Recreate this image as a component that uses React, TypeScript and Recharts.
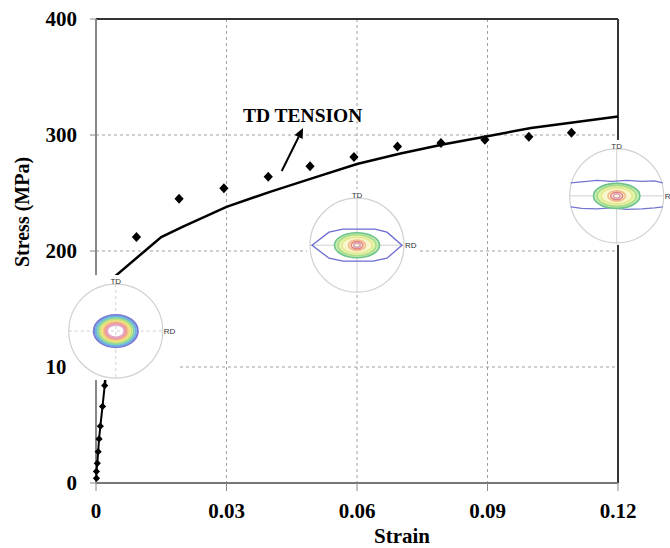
import {
  ComposedChart,
  Scatter,
  XAxis,
  YAxis,
  CartesianGrid,
  ReferenceLine,
  ReferenceDot,
  Label,
} from 'recharts';

// axis ticks
const strainTicks = [0, 0.03, 0.06, 0.09, 0.12];
const stressTicks = [0, 100, 200, 300, 400];

// elastic part (diamonds joined by a line)
const elasticStrain = [0.0001, 0.0001, 0.0003, 0.0005, 0.0007, 0.001, 0.0015, 0.002];
const elasticStress = [4, 10, 17, 27, 38, 49, 66, 84];

// simulated TD tension curve (plain line)
const curveStrain = [0.002, 0.0043, 0.015, 0.02, 0.03, 0.04, 0.05, 0.06, 0.07, 0.08, 0.09, 0.1, 0.11, 0.12];
const curveStress = [84, 178, 212, 221, 238, 251, 263, 275, 284, 292, 299, 306, 311, 316];

// measured points (diamonds only)
const testStrain = [0.0093, 0.0191, 0.0294, 0.0396, 0.0492, 0.0593, 0.0693, 0.0793, 0.0894, 0.0995, 0.1093];
const testStress = [212, 245, 254, 264, 273, 281, 290, 293, 296, 298.5, 302];

const FONT = '"Liberation Serif", "Times New Roman", serif';
const SANS = '"Liberation Sans", Arial, sans-serif';

const toPoints = (xs: number[], ys: number[]) => xs.map((x, i) => ({ x, y: ys[i] }));

const elasticData = toPoints(elasticStrain, elasticStress);
const curveData = toPoints(curveStrain, curveStress);
const testData = toPoints(testStrain, testStress);

// where the pole figure insets sit (in data units)
const INSETS = [
  { x: 0.00455, y: 131, kind: 'round' },
  { x: 0.06, y: 205, kind: 'eye' },
  { x: 0.1197, y: 247.5, kind: 'band' },
];

const diamond = (hw: number, hh: number) => (props: any) => {
  const { cx, cy } = props;
  if (cx == null || cy == null) return <g />;
  return (
    <path
      d={`M${cx},${cy - hh}L${cx + hw},${cy}L${cx},${cy + hh}L${cx - hw},${cy}Z`}
      fill="#000"
    />
  );
};

const noDot = () => <g />;

const roundRings = [
  { rx: 22, ry: 16, c: '#7b7bd6' },
  { rx: 20, ry: 14.5, c: '#6cb2e4' },
  { rx: 18, ry: 13, c: '#84d2ac' },
  { rx: 16, ry: 11.5, c: '#bfe281' },
  { rx: 14, ry: 10, c: '#efe37f' },
  { rx: 12, ry: 8.8, c: '#f3c283' },
  { rx: 10.3, ry: 7.6, c: '#ee9d8e' },
  { rx: 8.8, ry: 6.5, c: '#e5a3c6' },
];

const coreRings = [
  { rx: 22.5, ry: 12.5, c: '#6cc48a', f: '#c9ecb4' },
  { rx: 19, ry: 10.5, c: '#a9dc8a', f: '#e2f3aa' },
  { rx: 15, ry: 8, c: '#e6e88f', f: '#f8f6cc' },
  { rx: 8.5, ry: 5.2, c: '#f0b98a', f: 'none' },
  { rx: 5.8, ry: 3.6, c: '#e88282', f: 'none' },
  { rx: 3.2, ry: 2.1, c: '#d8a0c0', f: 'none' },
];

const pathFrom = (cx: number, cy: number, pts: number[][], close = false) =>
  pts.map((p, i) => `${i === 0 ? 'M' : 'L'}${cx + p[0]},${cy + p[1]}`).join('') + (close ? 'Z' : '');

function PoleFigure(props: any) {
  const { cx, cy, kind } = props;
  if (cx == null || cy == null) return <g />;
  const r = 47;
  const grey = '#d0d0d0';
  const dash = kind === 'round' ? '3 3' : undefined;
  return (
    <g>
      <rect x={cx - 50} y={cy - 56} width={113} height={105} fill="#fff" />
      <circle cx={cx} cy={cy} r={r} fill="none" stroke={grey} strokeWidth={1.2} />
      <line x1={cx - r} y1={cy} x2={cx + r} y2={cy} stroke={grey} strokeDasharray={dash} />
      <line x1={cx} y1={cy - r} x2={cx} y2={cy + r} stroke={grey} strokeDasharray={dash} />
      {kind === 'round' &&
        roundRings.map((g, i) => (
          <ellipse key={i} cx={cx} cy={cy} rx={g.rx} ry={g.ry} fill="none" stroke={g.c} strokeWidth={2.2} />
        ))}
      {kind === 'eye' && (
        <path
          d={pathFrom(cx, cy, [[-45, 0], [-28, -13], [-14, -16], [18, -16], [30, -13], [45, 0], [30, 13], [16, 16], [-14, 16], [-28, 13]], true)}
          fill="none"
          stroke="#6b6bd0"
          strokeWidth={1.3}
        />
      )}
      {kind === 'band' && (
        <g fill="none" stroke="#7474d2" strokeWidth={1.2}>
          <path d={pathFrom(cx, cy, [[-46, -13], [-35, -14], [-20, -15.5], [-5, -14.5], [10, -15.5], [25, -14.5], [38, -15], [46, -13]])} />
          <path d={pathFrom(cx, cy, [[-46, 11], [-35, 12.5], [-20, 13], [-5, 12], [10, 13.5], [25, 13], [38, 12], [46, 11]])} />
        </g>
      )}
      {kind !== 'round' &&
        coreRings.map((g, i) => (
          <ellipse
            key={i}
            cx={cx}
            cy={cy}
            rx={g.rx * (kind === 'band' ? 1.03 : 1)}
            ry={g.ry}
            fill={g.f}
            stroke={g.c}
            strokeWidth={1.6}
          />
        ))}
      <text x={cx} y={cy - 47} textAnchor="middle" fontSize={8} fontFamily={SANS} fill="#333">
        TD
      </text>
      <text x={cx + 48} y={cy + 3} fontSize={8} fontFamily={SANS} fill="#333">
        RD
      </text>
    </g>
  );
}

const Arrow = (props: any) => {
  const { x1, y1, x2, y2 } = props;
  if (x1 == null) return <g />;
  const a = Math.atan2(y2 - y1, x2 - x1);
  const len = 10;
  const w = 4.5;
  const bx = x2 - len * Math.cos(a);
  const by = y2 - len * Math.sin(a);
  const px = -Math.sin(a) * w;
  const py = Math.cos(a) * w;
  return (
    <g>
      <line x1={x1} y1={y1} x2={bx} y2={by} stroke="#000" strokeWidth={2} />
      <path d={`M${x2},${y2}L${bx + px},${by + py}L${bx - px},${by - py}Z`} fill="#000" />
    </g>
  );
};

const AnnotationText = (props: any) => {
  const { cx, cy } = props;
  if (cx == null) return <g />;
  return (
    <text x={cx} y={cy} textAnchor="middle" dominantBaseline="central" fontSize={19.5} fontWeight="bold" fontFamily={FONT} fill="#000">
      TD TENSION
    </text>
  );
};

const XTitle = (props: any) => {
  const { viewBox } = props;
  return (
    <text x={viewBox.x + viewBox.width / 2 + 45} y={viewBox.y + 60} textAnchor="middle" fontSize={21} fontWeight="bold" fontFamily={FONT} fill="#000">
      Strain
    </text>
  );
};

const YTitle = (props: any) => {
  const { viewBox } = props;
  const x = 22;
  const y = viewBox.y + viewBox.height / 2 - 39;
  return (
    <text x={x} y={y} transform={`rotate(-90, ${x}, ${y})`} textAnchor="middle" dominantBaseline="central" fontSize={20} fontWeight="bold" fontFamily={FONT} fill="#000">
      Stress (MPa)
    </text>
  );
};

const tickStyle = { fontSize: 21, fontWeight: 'bold', fill: '#000', fontFamily: FONT };

export default function App() {
  return (
    <div style={{ position: 'absolute', left: 0, top: 0, width: 670, height: 548, background: '#fff' }}>
      <ComposedChart
        width={670}
        height={548}
        margin={{ top: 19, right: 52, bottom: 0, left: 36 }}
        style={{ fontFamily: FONT }}
      >
        <CartesianGrid stroke="#a0a0a0" strokeDasharray="3 3" />
        <XAxis
          type="number"
          dataKey="x"
          domain={[0, 0.12]}
          ticks={strainTicks}
          interval={0}
          tickFormatter={(v: number) => (v === 0 ? '0' : v.toFixed(2))}
          tick={tickStyle}
          tickSize={8}
          tickMargin={12}
          tickLine={{ stroke: '#888' }}
          axisLine={{ stroke: '#777', strokeWidth: 2 }}
          height={65}
        >
          <Label content={XTitle} />
        </XAxis>
        <YAxis
          type="number"
          dataKey="y"
          domain={[0, 400]}
          ticks={stressTicks}
          interval={0}
          tick={tickStyle}
          tickSize={6}
          tickMargin={13}
          tickLine={{ stroke: '#888' }}
          axisLine={{ stroke: '#888', strokeWidth: 2 }}
          width={60}
        >
          <Label content={YTitle} />
        </YAxis>
        <ReferenceLine y={400} stroke="#333" strokeWidth={2} />
        <ReferenceLine x={0.12} stroke="#333" strokeWidth={2} />
        <Scatter
          data={curveData}
          line={{ stroke: '#000', strokeWidth: 2.5 }}
          lineType="joint"
          shape={noDot}
          isAnimationActive={false}
        />
        <Scatter
          data={elasticData}
          line={{ stroke: '#000', strokeWidth: 2 }}
          lineType="joint"
          shape={diamond(3.6, 3.6)}
          isAnimationActive={false}
        />
        <Scatter data={testData} shape={diamond(4.6, 5)} isAnimationActive={false} />
        <ReferenceLine
          segment={[{ x: 0.0427, y: 269 }, { x: 0.0476, y: 306 }]}
          shape={Arrow}
          ifOverflow="visible"
        />
        <ReferenceDot x={0.0475} y={317} r={1} shape={AnnotationText} ifOverflow="visible" />
        {INSETS.map((p) => (
          <ReferenceDot
            key={p.kind}
            x={p.x}
            y={p.y}
            r={1}
            ifOverflow="visible"
            zIndex={5000}
            shape={(sp: any) => <PoleFigure {...sp} kind={p.kind} />}
          />
        ))}
      </ComposedChart>
    </div>
  );
}
